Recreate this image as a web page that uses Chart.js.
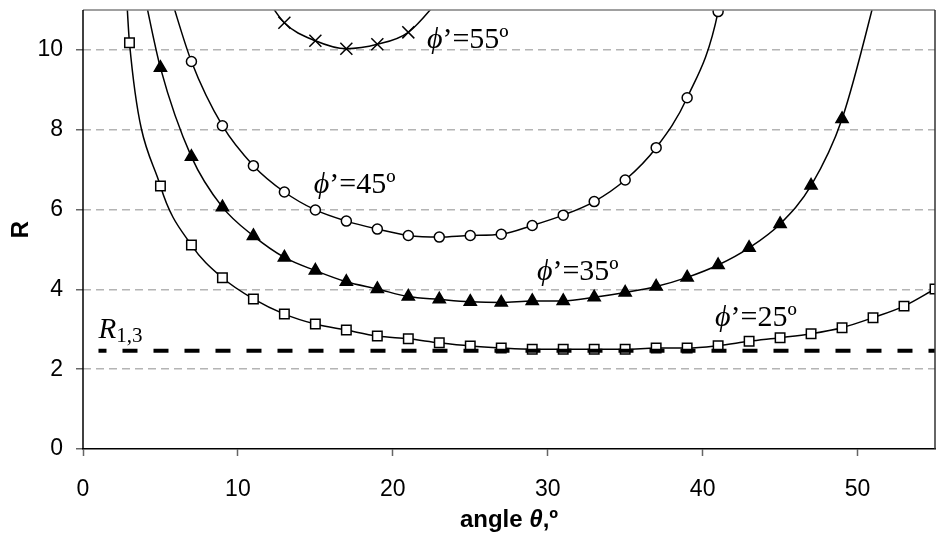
<!DOCTYPE html>
<html>
<head>
<meta charset="utf-8">
<script src="https://cdn.jsdelivr.net/npm/chart.js@4/dist/chart.umd.min.js"></script>
<style>
  html, body { margin: 0; padding: 0; background: #fff; }
  #wrap { width: 945px; height: 539px; }
</style>
</head>
<body>
<div id="wrap"><canvas id="grafico"></canvas></div>
<script>
// valores
const ang25 = [3, 5, 7, 9, 11, 13, 15, 17, 19, 21, 23, 25, 27, 29, 31, 33, 35, 37, 39, 41, 43, 45, 47, 49, 51, 53, 55];
const r25 = [10.18, 6.59, 5.11, 4.29, 3.76, 3.38, 3.13, 2.98, 2.83, 2.76, 2.66, 2.58, 2.53, 2.5, 2.5, 2.5, 2.5, 2.53, 2.53, 2.59, 2.7, 2.79, 2.89, 3.04, 3.29, 3.58, 4.01];
const ang35 = [5, 7, 9, 11, 13, 15, 17, 19, 21, 23, 25, 27, 29, 31, 33, 35, 37, 39, 41, 43, 45, 47, 49];
const r35 = [9.55, 7.32, 6.06, 5.34, 4.8, 4.47, 4.19, 4.01, 3.82, 3.75, 3.69, 3.67, 3.71, 3.71, 3.8, 3.92, 4.07, 4.3, 4.61, 5.04, 5.64, 6.6, 8.27];
const ang45 = [7, 9, 11, 13, 15, 17, 19, 21, 23, 25, 27, 29, 31, 33, 35, 37, 39, 41];
const r45 = [9.71, 8.1, 7.1, 6.44, 5.99, 5.71, 5.51, 5.35, 5.31, 5.35, 5.38, 5.6, 5.86, 6.2, 6.74, 7.55, 8.8, 10.96];
const ang55 = [13, 15, 17, 19, 21];
const r55 = [10.68, 10.23, 10.03, 10.14, 10.44];

// onde cada curva sai pelo topo do gráfico (sem marcador)
const topo25 = [[2.75, 11.8]];
const topo35 = [[3.95, 11.4], [51.6, 12]];
const topo45 = [[5.6, 11.4], [41.4, 12]];
const topo55 = [[11.5, 11.5], [23.5, 11.5]];

const r13 = 2.46;
const r13Ang = [1, 55];

const xTicks = [0, 10, 20, 30, 40, 50];
const yTicks = [0, 2, 4, 6, 8, 10];

function pontos(xs, ys) {
  return xs.map((x, i) => ({ x: x, y: ys[i] }));
}
function curva(xs, ys, extras) {
  return pontos(xs, ys).concat(extras.map(p => ({ x: p[0], y: p[1] })))
    .sort((a, b) => a.x - b.x);
}

const rotulos = [
  { t: '55º', x: 22.2, y: 10.25 },
  { t: '45º', x: 14.9, y: 6.6 },
  { t: '35º', x: 29.3, y: 4.43 },
  { t: '25º', x: 40.8, y: 3.28 }
];

const linha = (data) => ({
  data: data, showLine: true, borderColor: '#000', borderWidth: 1.5,
  pointRadius: 0, cubicInterpolationMode: 'monotone', fill: false
});
const marcas = (data, estilo, raio, fundo) => ({
  data: data, showLine: false, pointStyle: estilo, pointRadius: raio,
  pointBorderColor: '#000', pointBackgroundColor: fundo, pointBorderWidth: 1.5
});

const textos = {
  id: 'textos',
  afterDatasetsDraw(chart) {
    const { ctx, chartArea: a, scales: { x, y } } = chart;
    ctx.save();
    // bordas
    ctx.lineWidth = 1.5;
    ctx.strokeStyle = '#808080';
    ctx.beginPath(); ctx.moveTo(a.left, a.top); ctx.lineTo(a.right, a.top); ctx.stroke();
    ctx.strokeStyle = '#333';
    ctx.beginPath(); ctx.moveTo(a.right, a.top); ctx.lineTo(a.right, a.bottom); ctx.stroke();
    ctx.strokeStyle = '#000';
    ctx.beginPath(); ctx.moveTo(a.left, a.top); ctx.lineTo(a.left, a.bottom); ctx.stroke();

    ctx.fillStyle = '#000';
    ctx.textBaseline = 'middle';
    ctx.textAlign = 'left';
    rotulos.forEach(r => {
      let px = x.getPixelForValue(r.x);
      const py = y.getPixelForValue(r.y);
      ctx.font = 'italic 30px "Liberation Serif", "DejaVu Serif", serif';
      ctx.fillText('\u03D5', px, py);
      px += ctx.measureText('\u03D5').width;
      ctx.font = '30px "Liberation Serif", "DejaVu Serif", serif';
      ctx.fillText('\u2019=' + r.t, px, py);
    });
    let px = x.getPixelForValue(1.0);
    const py = y.getPixelForValue(2.98);
    ctx.font = 'italic 29px "Liberation Serif", serif';
    ctx.fillText('R', px, py);
    px += ctx.measureText('R').width;
    ctx.font = '21px "Liberation Serif", serif';
    ctx.fillText('1,3', px, py + 6);

    // título do eixo x com theta em itálico
    const partes = [
      ['angle ', 'bold 24px "Liberation Sans"'],
      ['\u03B8', 'bold italic 24px "Liberation Sans"'],
      [',º', 'bold 24px "Liberation Sans"']
    ];
    let total = 0;
    partes.forEach(p => { ctx.font = p[1]; total += ctx.measureText(p[0]).width; });
    let tx = (a.left + a.right) / 2 - total / 2;
    partes.forEach(p => {
      ctx.font = p[1];
      ctx.fillText(p[0], tx, 520);
      tx += ctx.measureText(p[0]).width;
    });
    ctx.restore();
  }
};

const ctx = document.getElementById('grafico');

new Chart(ctx, {
  type: 'scatter',
  data: {
    datasets: [
      {
        data: r13Ang.map(a => ({ x: a, y: r13 })), showLine: true, borderColor: '#000',
        borderWidth: 4, borderDash: [15, 16], borderDashOffset: 7, pointRadius: 0
      },
      marcas(pontos(ang25, r25), 'rect', 6.7, '#fff'),
      marcas(pontos(ang35, r35), 'triangle', 7, '#000'),
      marcas(pontos(ang45, r45), 'circle', 5, '#fff'),
      marcas(pontos(ang55, r55), 'crossRot', 8.5, '#000'),
      linha(curva(ang25, r25, topo25)),
      linha(curva(ang35, r35, topo35)),
      linha(curva(ang45, r45, topo45)),
      linha(curva(ang55, r55, topo55))
    ]
  },
  options: {
    responsive: true,
    maintainAspectRatio: false,
    animation: false,
    layout: { padding: { top: 10, right: 1, left: 0, bottom: 0 } },
    plugins: { legend: { display: false }, tooltip: { enabled: false } },
    scales: {
      x: {
        type: 'linear', min: 0, max: 55,
        afterBuildTicks: s => { s.ticks = xTicks.map(v => ({ value: v })); },
        afterFit: s => { s.height = 90; s.paddingLeft = 0; s.paddingRight = 0; },
        grid: { drawOnChartArea: false, drawTicks: true, tickLength: 7, tickColor: '#666', tickWidth: 1.5 },
        border: { color: '#000', width: 1.5 },
        ticks: { color: '#000', padding: 20, maxRotation: 0, font: { family: 'Liberation Sans', size: 23 } },
        title: { display: false }
      },
      y: {
        min: 0, max: 11,
        afterBuildTicks: s => { s.ticks = yTicks.map(v => ({ value: v })); },
        afterFit: s => { s.width = 83; s.paddingTop = 0; s.paddingBottom = 0; },
        grid: {
          color: c => (c.tick && c.tick.value === 0) ? 'rgba(0,0,0,0)' : '#b4b4b4',
          lineWidth: 1.5, tickLength: 7,
          tickColor: '#666', tickBorderDash: [], tickWidth: 1.5
        },
        border: { display: false, dash: [8, 5] },
        ticks: { color: '#000', padding: 13, font: { family: 'Liberation Sans', size: 23 } },
        title: {
          display: true, text: 'R', color: '#000',
          font: { family: 'Liberation Sans', size: 24, weight: 'bold' },
          padding: { top: 7, bottom: 0 }
        }
      }
    }
  },
  plugins: [textos]
});
</script>
</body>
</html>
